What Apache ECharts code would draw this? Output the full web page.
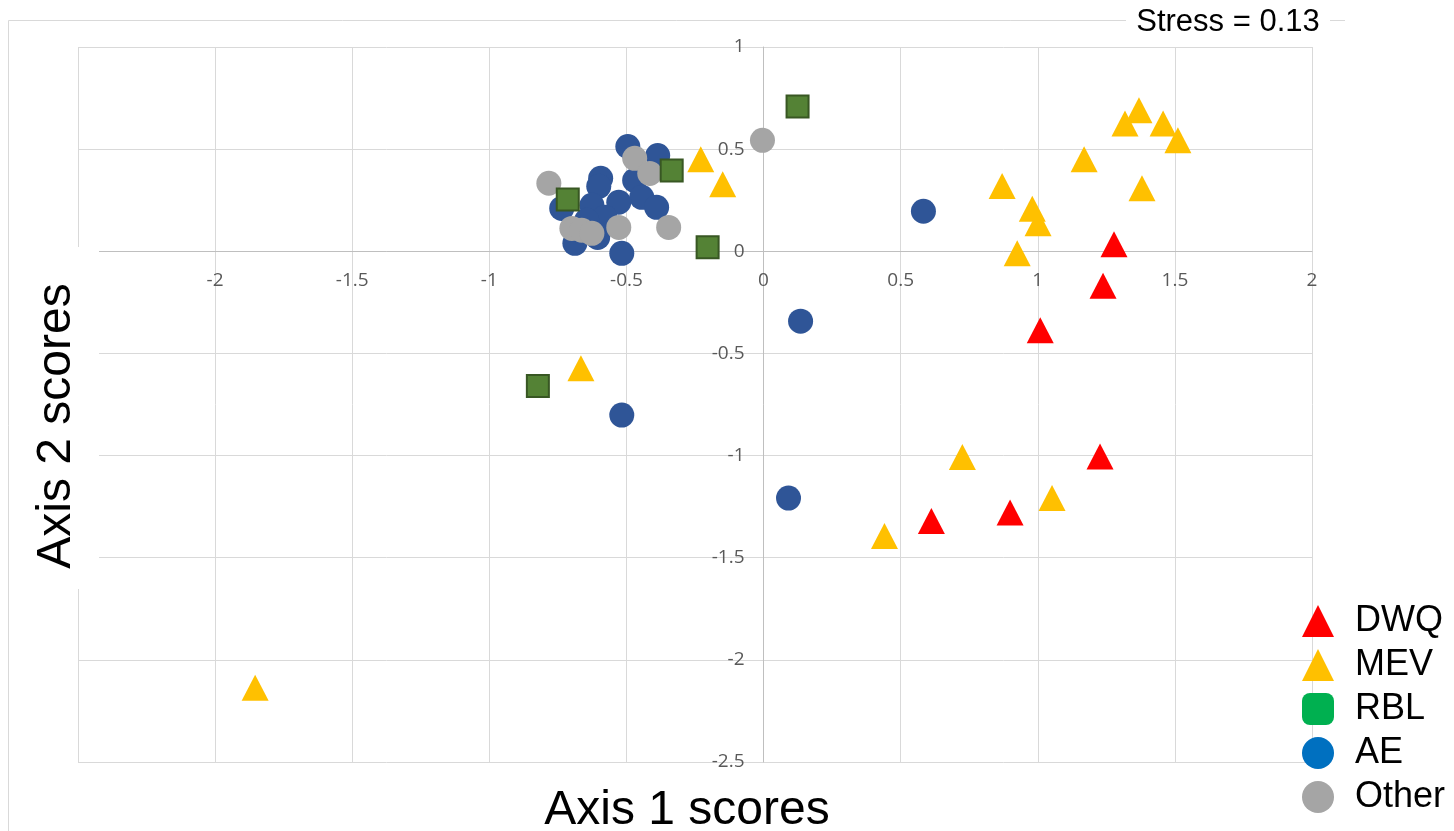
<!DOCTYPE html>
<html>
<head>
<meta charset="utf-8">
<title>NMDS ordination</title>
<script src="https://cdn.jsdelivr.net/npm/echarts@6/dist/echarts.min.js"></script>
<style>
  html, body { margin: 0; padding: 0; background: #ffffff; }
  #chart { width: 1454px; height: 831px; }
</style>
</head>
<body>
<div id="chart"></div>
<script>
// Ordination scores [axis 1, axis 2] for each site group
const dwqScores = [
  [1.278, 0.034], [1.238, -0.169], [1.009, -0.386],
  [1.227, -1.005], [0.899, -1.279], [0.612, -1.320]
];
const mevScores = [
  [0.725, -1.007], [1.052, -1.208], [0.441, -1.394],
  [0.870, 0.320], [0.980, 0.208], [1.001, 0.137], [0.925, -0.010],
  [1.169, 0.450], [1.380, 0.308], [1.318, 0.626], [1.369, 0.690],
  [1.457, 0.626], [1.511, 0.543],
  [-0.229, 0.450], [-0.149, 0.328],
  [-0.666, -0.572], [-1.854, -2.137]
];
const rblScores = [
  [0.124, 0.709], [-0.335, 0.396], [-0.204, 0.020],
  [-0.714, 0.254], [-0.823, -0.660]
];
const aeScores = [
  [-0.495, 0.513], [-0.386, 0.469], [-0.594, 0.357], [-0.601, 0.318],
  [-0.470, 0.347], [-0.444, 0.264], [-0.390, 0.215], [-0.528, 0.240],
  [-0.626, 0.225], [-0.736, 0.210], [-0.688, 0.039], [-0.605, 0.068],
  [-0.517, -0.010], [-0.579, 0.166], [-0.645, 0.152],
  [0.583, 0.196], [0.135, -0.342], [-0.517, -0.802], [0.091, -1.208]
];
const otherScores = [
  [-0.004, 0.543], [-0.346, 0.117], [-0.783, 0.333], [-0.470, 0.455],
  [-0.415, 0.381], [-0.528, 0.117], [-0.699, 0.112], [-0.663, 0.103],
  [-0.626, 0.088]
];

// Axis extents and tick step
const xMin = -2.5, xMax = 2;
const yMin = -2.5, yMax = 1;
const tickStep = 0.5;

const groupNames = ['DWQ', 'MEV', 'RBL', 'AE', 'Other'];
const stressText = 'Stress = 0.13';

const chart = echarts.init(document.getElementById('chart'), null, { renderer: 'canvas' });

const tickFont = { fontFamily: 'Open Sans', fontSize: 19, color: '#595959' };
const titleFont = 'Liberation Sans, Arial, sans-serif';

const triSize = [27, 26];

const option = {
  animation: false,
  backgroundColor: '#ffffff',
  grid: { left: 78, right: 142, top: 47, bottom: 69, containLabel: false },
  xAxis: {
    type: 'value', min: xMin, max: xMax, interval: tickStep,
    position: 'bottom',
    axisLine: { onZero: false, lineStyle: { color: '#BFBFBF', width: 1 } },
    axisTick: { show: false },
    axisLabel: Object.assign({ margin: 20, showMinLabel: false }, tickFont),
    splitLine: { show: true, lineStyle: { color: '#D9D9D9', width: 1 } }
  },
  yAxis: {
    type: 'value', min: yMin, max: yMax, interval: tickStep,
    position: 'left',
    axisLine: { show: true, onZero: false, lineStyle: { color: '#BFBFBF', width: 1 } },
    axisTick: { show: false },
    axisLabel: Object.assign({ margin: 19 }, tickFont),
    splitLine: { show: true, lineStyle: { color: '#D9D9D9', width: 1 } }
  },
  legend: {
    orient: 'vertical',
    left: 1302, top: 603, padding: 0,
    itemWidth: 32, itemHeight: 32, itemGap: 8,
    selectedMode: false,
    textStyle: { fontFamily: titleFont, fontSize: 36, color: '#000000', lineHeight: 36, padding: [0, 0, 0, 16] },
    data: [
      { name: 'DWQ', icon: 'triangle', itemStyle: { color: '#FF0000', borderWidth: 0 } },
      { name: 'MEV', icon: 'triangle', itemStyle: { color: '#FFC000', borderWidth: 0 } },
      { name: 'RBL', icon: 'roundRect', itemStyle: { color: '#00B050', borderWidth: 0 } },
      { name: 'AE', icon: 'circle', itemStyle: { color: '#0070C0', borderWidth: 0 } },
      { name: 'Other', icon: 'circle', itemStyle: { color: '#A5A5A5', borderWidth: 0 } }
    ]
  },
  series: [
    {
      name: groupNames[0], type: 'scatter', z: 6,
      symbol: 'triangle', symbolSize: triSize,
      itemStyle: { color: '#FF0000', opacity: 1 },
      data: dwqScores
    },
    {
      name: groupNames[1], type: 'scatter', z: 5,
      symbol: 'triangle', symbolSize: triSize,
      itemStyle: { color: '#FFC000', opacity: 1 },
      data: mevScores
    },
    {
      name: groupNames[2], type: 'scatter', z: 4,
      symbol: 'rect', symbolSize: 22,
      itemStyle: { color: '#548235', borderColor: '#385723', borderWidth: 2, opacity: 1 },
      data: rblScores
    },
    {
      name: groupNames[3], type: 'scatter', z: 2,
      symbol: 'circle', symbolSize: 25,
      itemStyle: { color: '#2F5597', opacity: 1 },
      data: aeScores
    },
    {
      name: groupNames[4], type: 'scatter', z: 3,
      symbol: 'circle', symbolSize: 25,
      itemStyle: { color: '#A5A5A5', opacity: 1 },
      data: otherScores
    }
  ],
  graphic: [
    // chart frame (top and left edges)
    {
      type: 'polyline', z: 1, silent: true,
      shape: { points: [[8.5, 831], [8.5, 20.5], [1345, 20.5]] },
      style: { stroke: '#D9D9D9', lineWidth: 1, fill: null }
    },
    // backing box behind the vertical axis title
    {
      type: 'rect', z: 50, silent: true,
      shape: { x: 12, y: 247, width: 87, height: 342 },
      style: { fill: '#ffffff' }
    },
    {
      type: 'text', z: 51, silent: true,
      x: 57, y: 426, rotation: Math.PI / 2,
      style: {
        text: 'Axis 2 scores', fontFamily: titleFont, fontSize: 48,
        fill: '#000000', align: 'center', verticalAlign: 'middle'
      }
    },
    {
      type: 'text', z: 51, silent: true,
      x: 687, y: 811,
      style: {
        text: 'Axis 1 scores', fontFamily: titleFont, fontSize: 48,
        fill: '#000000', align: 'center', verticalAlign: 'middle'
      }
    },
    // stress value box
    {
      type: 'rect', z: 50, silent: true,
      shape: { x: 1126, y: 4, width: 204, height: 36 },
      style: { fill: '#ffffff' }
    },
    {
      type: 'text', z: 51, silent: true,
      x: 1228, y: 22,
      style: {
        text: stressText, fontFamily: titleFont, fontSize: 31,
        fill: '#000000', align: 'center', verticalAlign: 'middle'
      }
    }
  ]
};

chart.setOption(option);

// Move both axes (line and labels) so they cross at the origin
const origin = chart.convertToPixel({ gridIndex: 0 }, [0, 0]);
const corner = chart.convertToPixel({ gridIndex: 0 }, [xMin, yMin]);
chart.setOption({
  xAxis: { offset: -(corner[1] - origin[1]) },
  yAxis: { offset: -(origin[0] - corner[0]) }
});
</script>
</body>
</html>
